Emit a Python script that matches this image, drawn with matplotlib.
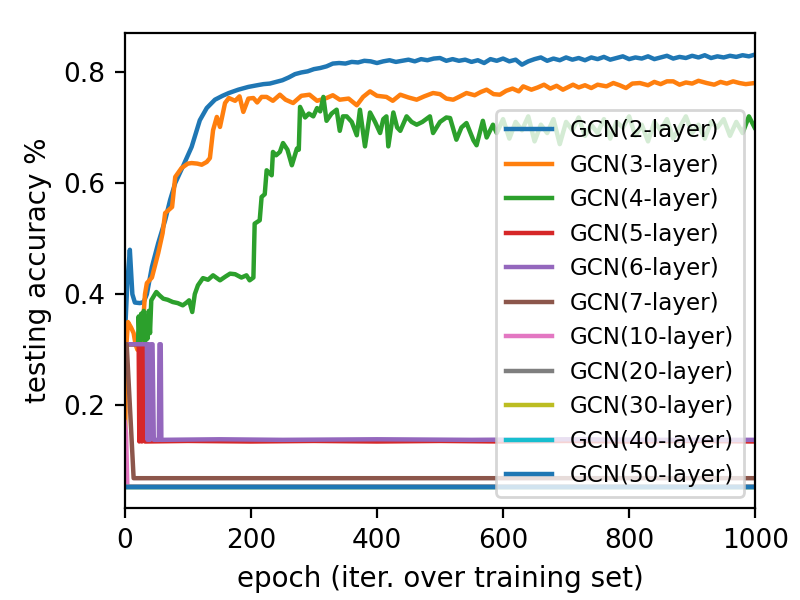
import matplotlib
matplotlib.use('Agg')
from matplotlib import pyplot as plt
from matplotlib.ticker import MultipleLocator

# GCN(2-layer)
ep_2 = [0, 4, 8, 12, 16, 24, 30, 35, 43, 53, 64, 72, 80, 93, 106, 119, 130, 143, 155, 165,
        180, 196, 210, 220, 230, 240, 250, 260, 270, 280, 290, 300, 310, 320, 330, 340, 350,
        360, 370, 380, 390, 400, 410, 420, 430, 440, 450, 460, 470, 480, 490, 500, 510, 520,
        530, 540, 550, 560, 570, 580, 590, 600, 610, 620, 630, 640, 650, 660, 670, 680, 690,
        700, 710, 720, 730, 740, 750, 760, 770, 780, 790, 800, 810, 820, 830, 840, 850, 860,
        870, 880, 890, 900, 910, 920, 930, 940, 950, 960, 970, 980, 990, 999]
acc_2 = [0.32, 0.42, 0.48, 0.40, 0.385, 0.384, 0.386, 0.40, 0.449, 0.492, 0.533, 0.57, 0.600,
         0.632, 0.665, 0.713, 0.735, 0.750, 0.757, 0.762, 0.768, 0.773, 0.776, 0.778, 0.779,
         0.782, 0.785, 0.790, 0.796, 0.799, 0.801, 0.805, 0.807, 0.810, 0.815, 0.816, 0.815,
         0.818, 0.817, 0.820, 0.819, 0.816, 0.819, 0.821, 0.818, 0.820, 0.822, 0.819, 0.823,
         0.821, 0.824, 0.825, 0.820, 0.823, 0.820, 0.822, 0.818, 0.821, 0.816, 0.823, 0.820,
         0.824, 0.819, 0.822, 0.813, 0.819, 0.823, 0.826, 0.820, 0.824, 0.821, 0.826, 0.822,
         0.825, 0.821, 0.826, 0.823, 0.827, 0.822, 0.825, 0.828, 0.823, 0.826, 0.824, 0.828,
         0.823, 0.826, 0.829, 0.824, 0.827, 0.825, 0.829, 0.826, 0.830, 0.825, 0.828, 0.826,
         0.829, 0.827, 0.830, 0.828, 0.831]

# GCN(3-layer)
ep_3 = [0, 2, 5, 10, 14, 17, 20, 27, 30, 32, 35, 43, 53, 60, 64, 70, 75, 80, 90, 100, 106, 115,
        122, 130, 135, 140, 146, 151, 159, 165, 175, 182, 188, 196, 204, 210, 217, 225, 235,
        246, 255, 267, 280, 293, 305, 320, 330, 341, 355, 368, 378, 389, 400, 415, 425, 437,
        450, 463, 475, 489, 500, 510, 521, 530, 542, 555, 565, 574, 585, 595, 605, 615, 625,
        632, 645, 655, 665, 675, 685, 695, 711, 720, 730, 740, 750, 764, 775, 785, 795, 805,
        817, 830, 840, 850, 860, 870, 880, 890, 900, 910, 923, 935, 945, 955, 965, 975, 985, 999]
acc_3 = [0.065, 0.30, 0.350, 0.34, 0.33, 0.31, 0.30, 0.30, 0.366, 0.40, 0.42, 0.43, 0.474,
         0.51, 0.546, 0.552, 0.557, 0.611, 0.627, 0.635, 0.636, 0.635, 0.633, 0.638, 0.645,
         0.695, 0.719, 0.701, 0.744, 0.753, 0.748, 0.756, 0.728, 0.752, 0.753, 0.745, 0.755,
         0.755, 0.748, 0.759, 0.750, 0.744, 0.757, 0.759, 0.748, 0.753, 0.758, 0.750, 0.752,
         0.740, 0.755, 0.765, 0.757, 0.755, 0.748, 0.759, 0.754, 0.750, 0.756, 0.762, 0.760,
         0.752, 0.750, 0.755, 0.762, 0.758, 0.764, 0.768, 0.760, 0.759, 0.766, 0.770, 0.765,
         0.774, 0.768, 0.772, 0.777, 0.770, 0.775, 0.768, 0.777, 0.772, 0.776, 0.771, 0.777,
         0.774, 0.780, 0.776, 0.771, 0.779, 0.780, 0.776, 0.782, 0.778, 0.783, 0.783, 0.777,
         0.781, 0.779, 0.784, 0.780, 0.777, 0.782, 0.779, 0.783, 0.780, 0.778, 0.780]

# GCN(4-layer)
ep_4 = [0, 21, 22, 24, 26, 28, 30, 32, 34, 36, 38, 40, 42, 50, 55, 61, 68, 76, 84, 92, 98, 102,
        107, 111, 116, 124, 132, 140, 151, 160, 167, 175, 185, 193, 198, 204, 206, 214, 217,
        222, 225, 233, 235, 240, 246, 251, 258, 265, 273, 276, 278, 286, 292, 299, 305, 310,
        315, 320, 328, 336, 341, 346, 352, 360, 368, 373, 381, 389, 397, 405, 410, 415, 418,
        426, 432, 437, 447, 455, 463, 472, 484, 489, 500, 510, 516, 526, 534, 542, 553, 558,
        568, 574, 584, 590, 600, 610, 620, 630, 640, 650, 660, 670, 680, 690, 700, 710, 720,
        730, 740, 750, 760, 770, 780, 790, 800, 810, 820, 830, 840, 850, 860, 870, 880, 890,
        900, 910, 920, 930, 940, 950, 960, 970, 980, 990, 999]
acc_4 = [0.31, 0.31, 0.36, 0.31, 0.365, 0.32, 0.37, 0.31, 0.36, 0.32, 0.37, 0.33, 0.389, 0.404,
         0.398, 0.392, 0.39, 0.386, 0.384, 0.380, 0.385, 0.389, 0.368, 0.40, 0.416, 0.429,
         0.426, 0.434, 0.425, 0.432, 0.437, 0.436, 0.430, 0.434, 0.425, 0.430, 0.527, 0.533,
         0.575, 0.580, 0.623, 0.614, 0.656, 0.650, 0.656, 0.672, 0.66, 0.632, 0.662, 0.66,
         0.737, 0.718, 0.725, 0.720, 0.735, 0.729, 0.755, 0.712, 0.725, 0.732, 0.694, 0.72,
         0.720, 0.71, 0.686, 0.732, 0.666, 0.727, 0.71, 0.690, 0.715, 0.720, 0.666, 0.727,
         0.70, 0.694, 0.720, 0.71, 0.705, 0.71, 0.720, 0.690, 0.71, 0.718, 0.717, 0.678, 0.70,
         0.708, 0.677, 0.668, 0.712, 0.682, 0.705, 0.69, 0.715, 0.68, 0.71, 0.695, 0.72, 0.675,
         0.705, 0.69, 0.715, 0.67, 0.71, 0.695, 0.718, 0.685, 0.705, 0.69, 0.715, 0.68, 0.71,
         0.70, 0.72, 0.685, 0.705, 0.675, 0.71, 0.695, 0.715, 0.68, 0.70, 0.72, 0.69, 0.705,
         0.68, 0.71, 0.70, 0.715, 0.685, 0.71, 0.69, 0.72, 0.70]

# GCN(5-layer)
ep_5 = [0, 22, 23, 25, 27, 29, 31, 32, 100, 200, 300, 400, 500, 600, 700, 800, 900, 999]
acc_5 = [0.31, 0.31, 0.135, 0.31, 0.135, 0.31, 0.31, 0.135, 0.136, 0.135, 0.136, 0.135,
         0.136, 0.135, 0.136, 0.135, 0.136, 0.135]

# GCN(6-layer)
ep_6 = [0, 35, 36, 38, 40, 42, 44, 46, 48, 54, 55, 57, 58, 150, 250, 400, 550, 700, 850, 999]
acc_6 = [0.31, 0.31, 0.138, 0.31, 0.138, 0.31, 0.31, 0.138, 0.138, 0.138, 0.31, 0.31, 0.138,
         0.139, 0.138, 0.139, 0.138, 0.139, 0.138, 0.138]

# GCN(7-layer)
ep_7 = [0, 3, 14, 999]
acc_7 = [0.31, 0.31, 0.069, 0.069]

# GCN(10-layer)
ep_10 = [0, 2, 4, 999]
acc_10 = [0.17, 0.15, 0.054, 0.054]

# GCN(20/30/40/50-layer)
ep_deep = [0, 999]
acc_20 = [0.054, 0.054]
acc_30 = [0.054, 0.054]
acc_40 = [0.054, 0.054]
acc_50 = [0.054, 0.054]

series = [
    ('GCN(2-layer)', ep_2, acc_2),
    ('GCN(3-layer)', ep_3, acc_3),
    ('GCN(4-layer)', ep_4, acc_4),
    ('GCN(5-layer)', ep_5, acc_5),
    ('GCN(6-layer)', ep_6, acc_6),
    ('GCN(7-layer)', ep_7, acc_7),
    ('GCN(10-layer)', ep_10, acc_10),
    ('GCN(20-layer)', ep_deep, acc_20),
    ('GCN(30-layer)', ep_deep, acc_30),
    ('GCN(40-layer)', ep_deep, acc_40),
    ('GCN(50-layer)', ep_deep, acc_50),
]

plt.rcParams['font.size'] = 10
fig, ax = plt.subplots(figsize=(4, 3), dpi=200)
fig.subplots_adjust(left=0.156, right=0.944, bottom=0.153, top=0.945)
for label, ep, acc in series:
    ax.plot(ep, acc, label=label, lw=1.6)
ax.set_xlim(0, 1000)
ax.set_ylim(0.015, 0.870)
ax.yaxis.set_major_locator(MultipleLocator(0.2))
ax.tick_params(labelsize=9.5)
ax.set_xlabel('epoch (iter. over training set)')
ax.set_ylabel('testing accuracy %')
ax.legend(loc='lower right', fontsize=8.3, labelspacing=0.5, handlelength=2.0)
plt.savefig('out.png', dpi=200)
